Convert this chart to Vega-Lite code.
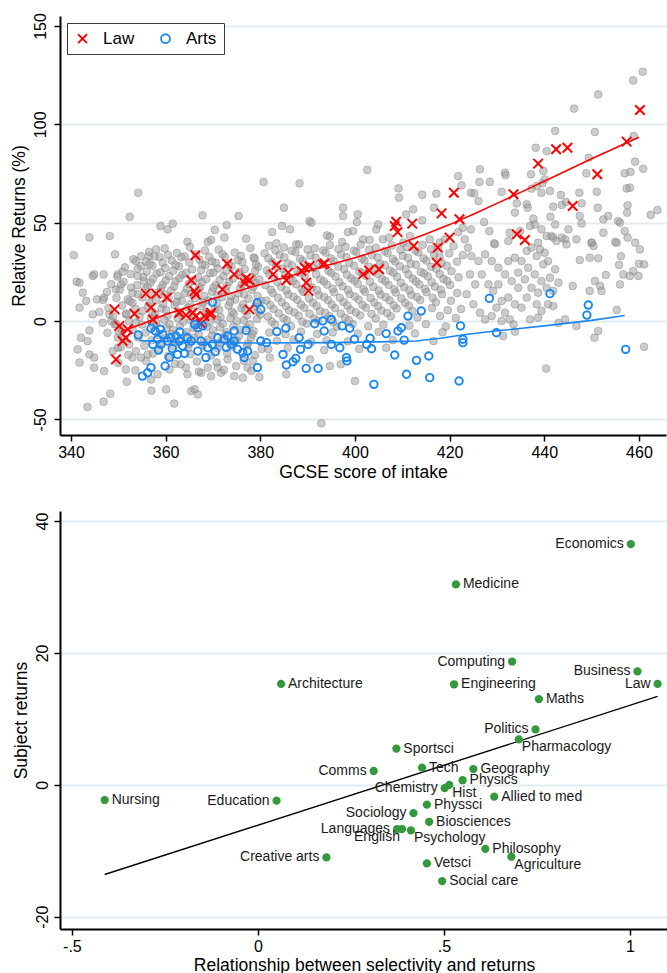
{
"$schema":"https://vega.github.io/schema/vega-lite/v6.json",
"background":"white",
"padding":{"top":12,"left":10,"right":0,"bottom":0},
"spacing":30,
"bounds":"full",
"config":{
 "font":"Liberation Sans",
 "view":{"stroke":null},
 "axis":{"domainColor":"#000","domainWidth":2,"tickColor":"#000","tickWidth":1.5,"tickSize":6,"labelFont":"Liberation Sans","titleFont":"Liberation Sans","labelFontSize":16,"titleFontSize":17.5,"titleFontWeight":"normal","labelColor":"#000","titleColor":"#000","gridColor":"#e3ebf0","gridWidth":1.8,"labelOverlap":false,"labelFlush":false},
 "legend":{"labelFont":"Liberation Sans"}
},
"datasets":{
"grey":[
{"x":460.8,"y":126.7},{"x":458.8,"y":122.3},{"x":451.4,"y":115.2},{"x":446.3,"y":108.0},{"x":442.3,"y":96.6},{"x":450.7,"y":96.1},{"x":458.9,"y":94.1},{"x":438.2,"y":88.1},{"x":440.5,"y":86.4},{"x":449.4,"y":83.0},{"x":459.2,"y":81.0},{"x":460.9,"y":77.4},{"x":426.4,"y":77.1},{"x":431.7,"y":75.4},{"x":431.8,"y":74.1},{"x":437.2,"y":74.6},{"x":439.8,"y":76.3},{"x":440.1,"y":72.0},{"x":439.6,"y":70.0},{"x":438.4,"y":68.6},{"x":437.3,"y":67.3},{"x":426.3,"y":70.7},{"x":428.5,"y":70.7},{"x":424.5,"y":65.2},{"x":425.2,"y":64.9},{"x":426.1,"y":61.0},{"x":431.0,"y":65.7},{"x":439.4,"y":65.2},{"x":441.2,"y":66.1},{"x":443.5,"y":64.1},{"x":447.4,"y":65.2},{"x":451.1,"y":65.7},{"x":448.9,"y":75.1},{"x":457.0,"y":75.1},{"x":458.2,"y":75.8},{"x":457.4,"y":67.4},{"x":458.1,"y":67.8},{"x":434.2,"y":59.8},{"x":433.8,"y":55.1},{"x":436.3,"y":59.3},{"x":436.5,"y":57.6},{"x":441.9,"y":58.1},{"x":443.7,"y":59.0},{"x":444.6,"y":60.5},{"x":447.9,"y":59.8},{"x":447.5,"y":53.4},{"x":451.3,"y":57.6},{"x":457.6,"y":58.8},{"x":457.5,"y":55.1},{"x":462.5,"y":53.9},{"x":463.9,"y":56.4},{"x":427.3,"y":50.3},{"x":437.7,"y":52.0},{"x":438.0,"y":49.1},{"x":441.3,"y":53.0},{"x":442.3,"y":49.1},{"x":445.1,"y":46.6},{"x":446.8,"y":41.5},{"x":447.9,"y":49.6},{"x":452.5,"y":51.7},{"x":453.5,"y":53.4},{"x":455.6,"y":50.8},{"x":456.0,"y":50.0},{"x":428.4,"y":45.7},{"x":429.4,"y":39.5},{"x":432.7,"y":44.9},{"x":434.9,"y":45.7},{"x":437.0,"y":48.3},{"x":439.4,"y":46.6},{"x":440.5,"y":43.2},{"x":441.5,"y":43.2},{"x":441.9,"y":42.4},{"x":443.7,"y":42.4},{"x":444.4,"y":41.5},{"x":450.0,"y":39.8},{"x":452.5,"y":44.9},{"x":455.0,"y":40.2},{"x":457.0,"y":45.7},{"x":457.6,"y":42.4},{"x":459.2,"y":39.8},{"x":424.5,"y":46.6},{"x":423.2,"y":41.5},{"x":438.7,"y":39.8},
{"x":380.7,"y":70.7},{"x":388.3,"y":70.0},{"x":402.6,"y":76.8},{"x":409.2,"y":67.4},{"x":409.3,"y":62.7},{"x":414.2,"y":64.2},{"x":417.2,"y":64.7},{"x":421.8,"y":73.7},{"x":422.5,"y":69.0},{"x":385.0,"y":57.6},{"x":397.5,"y":57.6},{"x":397.5,"y":53.4},{"x":400.6,"y":54.2},{"x":400.4,"y":50.3},{"x":390.4,"y":50.8},{"x":390.8,"y":50.0},{"x":384.6,"y":48.3},{"x":386.3,"y":46.6},{"x":382.5,"y":45.2},{"x":383.4,"y":39.5},{"x":387.6,"y":39.0},{"x":394.1,"y":43.5},{"x":394.7,"y":42.9},{"x":397.3,"y":40.2},{"x":398.5,"y":45.2},{"x":399.6,"y":45.7},{"x":401.7,"y":41.5},{"x":403.1,"y":41.2},{"x":404.9,"y":49.1},{"x":404.5,"y":46.6},{"x":405.9,"y":41.5},{"x":407.2,"y":42.4},{"x":410.8,"y":54.2},{"x":412.3,"y":56.8},{"x":414.2,"y":51.2},{"x":416.7,"y":57.6},{"x":415.8,"y":41.5},{"x":417.9,"y":39.8},{"x":419.0,"y":41.5},{"x":421.8,"y":45.2},{"x":422.8,"y":47.4},{"x":411.6,"y":43.2},{"x":410.2,"y":39.8},
{"x":354.2,"y":65.2},{"x":352.4,"y":53.0},{"x":343.9,"y":42.5},{"x":348.2,"y":43.2},{"x":358.9,"y":48.3},{"x":360.4,"y":46.6},{"x":361.5,"y":49.5},{"x":364.6,"y":40.3},{"x":367.8,"y":53.7},{"x":370.4,"y":46.3},{"x":372.9,"y":48.8},{"x":375.4,"y":53.4},{"x":372.4,"y":42.4},{"x":377.0,"y":41.9},{"x":368.9,"y":40.2},{"x":369.6,"y":41.2},
{"x":340.6,"y":33.5},{"x":349.3,"y":33.9},{"x":341.2,"y":20.0},{"x":341.8,"y":19.5},{"x":344.9,"y":23.7},{"x":344.6,"y":22.9},{"x":346.9,"y":23.7},{"x":342.5,"y":14.4},{"x":343.2,"y":10.2},{"x":341.8,"y":6.8},{"x":345.5,"y":11.0},{"x":347.0,"y":11.9},{"x":344.6,"y":3.4},{"x":346.0,"y":4.7},{"x":346.7,"y":-0.9},{"x":343.9,"y":-4.8},{"x":342.1,"y":-8.5},{"x":343.5,"y":-10.2},{"x":341.4,"y":-14.4},{"x":343.9,"y":-17.0},{"x":344.9,"y":-18.6},{"x":341.8,"y":-21.1},{"x":344.9,"y":-23.7},{"x":347.0,"y":-25.4},{"x":348.3,"y":-37.0},{"x":343.5,"y":-43.7},{"x":346.9,"y":-41.0},{"x":351.8,"y":-30.9},{"x":348.8,"y":-15.3},{"x":349.9,"y":-13.6},{"x":349.9,"y":-8.5},{"x":347.7,"y":-6.0},{"x":348.5,"y":0.0},{"x":348.1,"y":3.4},{"x":349.5,"y":16.1},{"x":350.6,"y":18.6},{"x":349.9,"y":23.7},{"x":350.9,"y":25.1},{"x":353.7,"y":30.5},{"x":354.8,"y":33.0},{"x":354.8,"y":28.0},{"x":356.5,"y":33.0},{"x":358.0,"y":36.4},{"x":354.1,"y":22.9},{"x":355.4,"y":20.3},{"x":352.7,"y":17.0},{"x":354.1,"y":13.6},{"x":352.0,"y":11.0},{"x":353.0,"y":9.3},{"x":351.6,"y":3.4},{"x":353.7,"y":-0.9},{"x":355.1,"y":5.1},{"x":349.2,"y":-1.7},{"x":350.6,"y":-4.2},{"x":352.3,"y":-11.9},{"x":353.7,"y":-15.3},{"x":353.0,"y":-18.6},{"x":354.8,"y":-18.6},{"x":356.2,"y":-17.0},{"x":351.6,"y":-24.6},{"x":356.9,"y":-29.7},{"x":358.3,"y":-27.1},{"x":360.1,"y":-34.8},{"x":361.8,"y":-42.0},{"x":357.0,"y":-35.4},{"x":365.4,"y":-35.6},{"x":366.8,"y":-37.3},{"x":366.1,"y":-34.7},{"x":364.6,"y":-27.1},{"x":364.3,"y":-23.7},{"x":363.2,"y":-22.0},{"x":367.5,"y":-26.3},{"x":368.9,"y":-23.7},{"x":369.6,"y":-28.0},{"x":371.0,"y":-23.7},{"x":371.7,"y":-26.3},{"x":374.5,"y":-28.0},{"x":376.3,"y":-28.8},{"x":373.1,"y":-19.5},{"x":374.9,"y":-22.9},{"x":377.3,"y":-23.7},{"x":378.4,"y":-20.3},
{"x":356.5,"y":35.2},{"x":359.8,"y":36.9},{"x":362.4,"y":34.6},{"x":365.1,"y":37.8},{"x":368.3,"y":35.9},{"x":371.2,"y":36.3},{"x":374.6,"y":34.8},{"x":377.9,"y":37.1},
{"x":353.2,"y":31.4},{"x":355.9,"y":30.2},{"x":358.7,"y":32.5},{"x":361.3,"y":30.8},{"x":364.0,"y":32.9},{"x":367.1,"y":31.2},{"x":369.8,"y":30.4},{"x":372.5,"y":32.7},{"x":375.3,"y":30.9},{"x":378.8,"y":31.8},
{"x":351.4,"y":27.3},{"x":354.1,"y":26.5},{"x":357.2,"y":28.1},{"x":359.9,"y":26.9},{"x":362.8,"y":27.8},{"x":365.6,"y":26.2},{"x":368.4,"y":28.4},{"x":371.0,"y":26.7},{"x":373.9,"y":27.9},{"x":376.7,"y":26.4},{"x":379.5,"y":27.6},
{"x":349.8,"y":22.6},{"x":352.6,"y":23.8},{"x":355.3,"y":22.4},{"x":358.1,"y":24.1},{"x":360.7,"y":22.8},{"x":363.5,"y":23.5},{"x":366.9,"y":22.1},{"x":369.4,"y":24.3},{"x":372.2,"y":22.9},{"x":375.8,"y":23.6},{"x":378.3,"y":22.2},
{"x":348.5,"y":18.7},{"x":351.1,"y":19.9},{"x":354.0,"y":18.2},{"x":356.8,"y":19.6},{"x":359.4,"y":18.4},{"x":362.1,"y":20.1},{"x":364.9,"y":18.9},{"x":367.7,"y":19.7},{"x":370.6,"y":18.3},{"x":373.4,"y":19.9},{"x":376.1,"y":18.6},{"x":379.0,"y":19.4},
{"x":347.6,"y":14.8},{"x":350.3,"y":15.9},{"x":353.0,"y":14.3},{"x":355.7,"y":16.2},{"x":358.5,"y":14.7},{"x":361.2,"y":15.6},{"x":364.1,"y":14.2},{"x":367.0,"y":16.0},{"x":369.8,"y":14.9},{"x":372.7,"y":15.7},{"x":375.4,"y":14.1},{"x":378.2,"y":15.8},
{"x":346.8,"y":10.7},{"x":349.6,"y":11.8},{"x":352.4,"y":10.1},{"x":355.1,"y":12.0},{"x":357.9,"y":10.6},{"x":360.6,"y":11.9},{"x":363.4,"y":10.3},{"x":366.2,"y":11.6},{"x":369.0,"y":10.5},{"x":371.9,"y":12.1},{"x":374.7,"y":10.9},{"x":377.5,"y":11.4},{"x":380.2,"y":10.2},
{"x":347.9,"y":6.6},{"x":350.8,"y":7.9},{"x":353.6,"y":6.2},{"x":356.3,"y":7.7},{"x":359.1,"y":6.4},{"x":361.9,"y":8.0},{"x":364.7,"y":6.8},{"x":367.6,"y":7.5},{"x":370.4,"y":6.1},{"x":373.3,"y":7.8},{"x":376.0,"y":6.5},{"x":378.9,"y":7.3},
{"x":348.9,"y":2.4},{"x":351.7,"y":3.8},{"x":354.5,"y":2.1},{"x":357.8,"y":3.6},{"x":360.4,"y":2.6},{"x":363.1,"y":3.9},{"x":366.0,"y":2.2},{"x":368.8,"y":3.5},{"x":371.6,"y":2.0},{"x":374.4,"y":3.7},{"x":377.2,"y":2.8},{"x":380.0,"y":3.2},
{"x":349.5,"y":-1.3},{"x":352.3,"y":-0.2},{"x":355.0,"y":-1.8},{"x":358.0,"y":-0.5},{"x":360.8,"y":-1.6},{"x":363.7,"y":-0.3},{"x":366.5,"y":-1.9},{"x":369.3,"y":-0.6},{"x":372.1,"y":-1.4},{"x":375.0,"y":-0.1},{"x":377.8,"y":-1.7},
{"x":350.1,"y":-5.4},{"x":353.0,"y":-4.3},{"x":355.8,"y":-5.9},{"x":361.5,"y":-4.6},{"x":364.4,"y":-5.7},{"x":370.0,"y":-4.8},{"x":372.9,"y":-5.6},{"x":375.7,"y":-4.4},{"x":378.6,"y":-5.2},
{"x":351.2,"y":-9.2},{"x":354.2,"y":-8.3},{"x":357.0,"y":-9.8},{"x":360.0,"y":-8.7},{"x":363.0,"y":-9.6},{"x":366.0,"y":-8.4},{"x":369.0,"y":-9.5},{"x":372.0,"y":-8.8},{"x":375.0,"y":-9.9},{"x":378.0,"y":-8.6},
{"x":350.5,"y":-13.4},{"x":355.5,"y":-12.6},{"x":358.6,"y":-14.0},{"x":361.7,"y":-12.9},{"x":364.8,"y":-13.7},{"x":367.9,"y":-12.5},{"x":371.0,"y":-13.9},{"x":374.1,"y":-13.0},{"x":377.2,"y":-12.7},{"x":380.3,"y":-14.2},
{"x":352.1,"y":-17.2},{"x":357.3,"y":-16.5},{"x":360.5,"y":-17.8},{"x":365.2,"y":-16.9},{"x":369.6,"y":-17.5},{"x":373.0,"y":-16.4},{"x":378.9,"y":-17.3},
{"x":350.0,"y":-21.3},{"x":355.9,"y":-20.4},{"x":362.0,"y":-21.8},{"x":366.6,"y":-20.6},{"x":370.8,"y":-21.1},{"x":376.5,"y":-20.2},
{"x":353.6,"y":-25.1},{"x":360.8,"y":-24.6},{"x":367.0,"y":-25.7},{"x":372.3,"y":-24.9},{"x":378.1,"y":-25.3},
{"x":357.6,"y":32.8},{"x":360.5,"y":33.6},{"x":363.3,"y":32.4},{"x":366.4,"y":33.9},{"x":369.2,"y":32.6},{"x":372.0,"y":34.0},{"x":375.9,"y":33.1},{"x":378.6,"y":32.3},
{"x":356.6,"y":28.9},{"x":359.4,"y":29.7},{"x":362.1,"y":28.5},{"x":365.0,"y":29.8},{"x":367.8,"y":28.7},{"x":370.6,"y":29.5},{"x":373.3,"y":28.9},{"x":376.2,"y":29.9},{"x":379.1,"y":28.7},
{"x":356.0,"y":25.1},{"x":358.9,"y":24.8},{"x":361.6,"y":25.6},{"x":364.3,"y":24.5},{"x":367.5,"y":25.9},{"x":370.1,"y":24.6},{"x":372.8,"y":25.4},{"x":375.5,"y":24.9},{"x":378.9,"y":25.3},
{"x":357.3,"y":21.4},{"x":360.0,"y":20.6},{"x":362.9,"y":21.7},{"x":365.8,"y":20.5},{"x":368.6,"y":21.3},{"x":371.4,"y":20.8},{"x":374.2,"y":21.6},{"x":377.0,"y":20.4},{"x":379.8,"y":21.1},
{"x":356.2,"y":17.3},{"x":359.0,"y":16.7},{"x":361.8,"y":17.6},{"x":364.5,"y":16.5},{"x":367.3,"y":17.2},{"x":370.1,"y":16.9},{"x":372.9,"y":17.8},{"x":375.7,"y":16.6},{"x":378.6,"y":17.4},
{"x":357.0,"y":12.9},{"x":359.8,"y":13.5},{"x":362.6,"y":12.6},{"x":365.4,"y":13.8},{"x":368.2,"y":12.7},{"x":371.0,"y":13.3},{"x":373.8,"y":12.5},{"x":376.6,"y":13.6},{"x":379.4,"y":12.8},
{"x":356.6,"y":9.2},{"x":359.5,"y":8.7},{"x":362.3,"y":9.6},{"x":365.1,"y":8.5},{"x":367.9,"y":9.3},{"x":370.8,"y":8.9},{"x":373.6,"y":9.7},{"x":376.4,"y":8.6},{"x":379.2,"y":9.1},
{"x":357.2,"y":4.8},{"x":360.1,"y":5.5},{"x":362.8,"y":4.6},{"x":365.6,"y":5.3},{"x":368.5,"y":4.5},{"x":371.3,"y":5.6},{"x":374.0,"y":4.7},{"x":376.8,"y":5.2},{"x":379.6,"y":4.9},
{"x":356.9,"y":1.2},{"x":359.7,"y":0.6},{"x":362.5,"y":1.5},{"x":365.3,"y":0.4},{"x":368.1,"y":1.1},{"x":370.9,"y":0.7},{"x":373.7,"y":1.4},{"x":376.5,"y":0.3},{"x":379.3,"y":1.0},
{"x":357.4,"y":-2.8},{"x":360.2,"y":-3.4},{"x":363.0,"y":-2.6},{"x":365.9,"y":-3.5},{"x":368.7,"y":-2.9},{"x":371.5,"y":-3.2},{"x":374.3,"y":-2.7},{"x":377.1,"y":-3.6},
{"x":358.5,"y":-7.2},{"x":361.3,"y":-6.6},{"x":364.2,"y":-7.4},{"x":367.0,"y":-6.8},{"x":369.8,"y":-7.3},{"x":372.6,"y":-6.9},{"x":375.5,"y":-7.5},{"x":378.3,"y":-6.7},
{"x":359.2,"y":-11.2},{"x":362.1,"y":-10.6},{"x":365.0,"y":-11.5},{"x":368.0,"y":-10.8},{"x":371.1,"y":-11.3},{"x":374.2,"y":-10.7},{"x":377.4,"y":-11.4},
{"x":381.8,"y":38.3},{"x":385.0,"y":37.4},{"x":388.2,"y":38.9},{"x":391.5,"y":37.0},{"x":394.7,"y":38.6},{"x":398.0,"y":37.7},{"x":401.2,"y":38.8},{"x":404.4,"y":37.2},{"x":407.8,"y":38.4},{"x":411.0,"y":37.5},{"x":414.3,"y":38.7},{"x":417.6,"y":37.3},{"x":420.8,"y":38.1},
{"x":380.9,"y":34.4},{"x":384.1,"y":33.6},{"x":387.4,"y":35.0},{"x":390.6,"y":33.3},{"x":393.8,"y":34.8},{"x":397.1,"y":33.9},{"x":400.3,"y":35.1},{"x":403.6,"y":33.5},{"x":406.9,"y":34.6},{"x":410.1,"y":33.2},{"x":413.4,"y":34.9},{"x":416.7,"y":33.7},{"x":419.9,"y":34.4},{"x":422.8,"y":33.5},
{"x":382.5,"y":30.1},{"x":385.8,"y":29.3},{"x":389.0,"y":30.6},{"x":392.3,"y":29.0},{"x":395.5,"y":30.4},{"x":398.8,"y":29.5},{"x":402.0,"y":30.8},{"x":405.3,"y":29.2},{"x":408.5,"y":30.3},{"x":411.8,"y":29.1},{"x":415.1,"y":30.7},{"x":418.3,"y":29.4},{"x":421.6,"y":30.2},
{"x":381.4,"y":25.8},{"x":384.7,"y":26.6},{"x":387.9,"y":25.2},{"x":391.2,"y":26.9},{"x":394.4,"y":25.5},{"x":397.7,"y":26.4},{"x":400.9,"y":25.1},{"x":404.2,"y":26.8},{"x":407.4,"y":25.6},{"x":410.7,"y":26.3},{"x":413.9,"y":25.0},{"x":417.2,"y":26.5},{"x":420.4,"y":25.3},
{"x":382.9,"y":22.4},{"x":386.2,"y":21.5},{"x":389.4,"y":22.8},{"x":392.7,"y":21.2},{"x":395.9,"y":22.6},{"x":399.2,"y":21.7},{"x":402.4,"y":22.9},{"x":405.7,"y":21.3},{"x":408.9,"y":22.5},{"x":412.2,"y":21.6},{"x":415.4,"y":22.7},{"x":418.7,"y":21.4},{"x":421.9,"y":22.2},
{"x":381.1,"y":18.2},{"x":384.4,"y":17.4},{"x":387.6,"y":18.7},{"x":390.9,"y":17.1},{"x":394.1,"y":18.5},{"x":397.4,"y":17.6},{"x":400.6,"y":18.9},{"x":403.9,"y":17.3},{"x":407.1,"y":18.4},{"x":410.4,"y":17.2},{"x":413.6,"y":18.6},{"x":416.9,"y":17.5},{"x":420.1,"y":18.3},
{"x":382.6,"y":14.3},{"x":385.9,"y":13.5},{"x":389.1,"y":14.8},{"x":392.4,"y":13.2},{"x":395.6,"y":14.6},{"x":398.9,"y":13.7},{"x":402.1,"y":14.9},{"x":405.4,"y":13.4},{"x":408.6,"y":14.5},{"x":411.9,"y":13.3},{"x":415.1,"y":14.7},{"x":418.4,"y":13.6},{"x":421.6,"y":14.2},
{"x":381.3,"y":10.4},{"x":384.6,"y":9.5},{"x":387.8,"y":10.8},{"x":391.1,"y":9.3},{"x":394.3,"y":10.6},{"x":397.6,"y":9.7},{"x":400.8,"y":10.9},{"x":404.1,"y":9.4},{"x":407.3,"y":10.5},{"x":410.6,"y":9.2},{"x":413.8,"y":10.7},{"x":417.1,"y":9.6},{"x":420.3,"y":10.3},
{"x":382.8,"y":6.2},{"x":386.1,"y":5.4},{"x":389.3,"y":6.7},{"x":392.6,"y":5.1},{"x":395.8,"y":6.5},{"x":399.1,"y":5.6},{"x":402.3,"y":6.8},{"x":405.6,"y":5.3},{"x":408.8,"y":6.4},{"x":412.1,"y":5.2},{"x":416.3,"y":6.6},{"x":419.6,"y":5.5},{"x":422.4,"y":6.1},
{"x":381.6,"y":2.3},{"x":384.9,"y":1.4},{"x":388.1,"y":2.7},{"x":391.4,"y":1.2},{"x":394.6,"y":2.5},{"x":397.9,"y":1.6},{"x":401.1,"y":2.8},{"x":404.4,"y":1.3},{"x":407.6,"y":2.4},{"x":413.2,"y":1.8},{"x":418.0,"y":2.6},{"x":421.3,"y":1.5},
{"x":383.1,"y":-1.8},{"x":386.5,"y":-2.6},{"x":389.8,"y":-1.3},{"x":396.2,"y":-2.9},{"x":399.5,"y":-1.5},{"x":402.8,"y":-2.7},{"x":406.0,"y":-1.9},{"x":411.5,"y":-2.4},{"x":415.0,"y":-1.6},{"x":419.2,"y":-2.8},
{"x":381.9,"y":-5.9},{"x":385.3,"y":-6.7},{"x":388.6,"y":-5.4},{"x":392.0,"y":-6.6},{"x":395.3,"y":-5.8},{"x":400.6,"y":-6.4},{"x":405.0,"y":-5.5},{"x":412.7,"y":-6.3},{"x":418.5,"y":-5.7},
{"x":383.5,"y":-10.1},{"x":387.0,"y":-9.4},{"x":390.8,"y":-10.6},{"x":394.0,"y":-9.8},{"x":398.5,"y":-10.4},{"x":408.0,"y":-9.7},{"x":416.6,"y":-10.2},
{"x":381.7,"y":-14.3},{"x":385.8,"y":-13.6},{"x":393.5,"y":-14.8},{"x":400.9,"y":-14.2},{"x":406.6,"y":-13.6},
{"x":382.0,"y":-18.6},{"x":390.5,"y":-19.5},{"x":394.7,"y":-22.9},{"x":385.5,"y":-27.1},{"x":400.0,"y":-30.5},{"x":392.9,"y":-52.0},{"x":397.0,"y":-22.0},{"x":379.8,"y":-28.5},
{"x":383.2,"y":36.0},{"x":386.6,"y":35.7},{"x":390.0,"y":36.4},{"x":393.3,"y":35.9},{"x":396.5,"y":36.6},{"x":399.8,"y":35.8},{"x":403.0,"y":36.3},{"x":406.3,"y":35.6},{"x":409.6,"y":36.2},{"x":412.8,"y":35.9},{"x":416.1,"y":36.5},
{"x":381.7,"y":31.9},{"x":385.1,"y":32.4},{"x":388.4,"y":31.6},{"x":391.7,"y":32.2},{"x":394.9,"y":31.8},{"x":398.2,"y":32.5},{"x":401.5,"y":31.7},{"x":404.8,"y":32.3},{"x":408.0,"y":31.5},{"x":411.2,"y":32.1},{"x":414.5,"y":31.8},{"x":417.9,"y":32.6},
{"x":383.4,"y":27.9},{"x":386.7,"y":28.3},{"x":390.0,"y":27.6},{"x":393.2,"y":28.5},{"x":396.5,"y":27.7},{"x":399.8,"y":28.2},{"x":403.0,"y":27.5},{"x":406.3,"y":28.4},{"x":409.5,"y":27.8},{"x":412.9,"y":28.6},{"x":416.1,"y":27.6},{"x":419.4,"y":28.1},
{"x":381.9,"y":24.1},{"x":385.3,"y":23.7},{"x":388.5,"y":24.4},{"x":391.8,"y":23.8},{"x":395.0,"y":24.5},{"x":398.3,"y":23.6},{"x":401.6,"y":24.3},{"x":404.8,"y":23.9},{"x":408.1,"y":24.6},{"x":411.3,"y":23.7},{"x":414.6,"y":24.2},{"x":417.9,"y":23.9},
{"x":383.6,"y":19.8},{"x":386.9,"y":20.4},{"x":390.1,"y":19.6},{"x":393.4,"y":20.2},{"x":396.7,"y":19.7},{"x":399.9,"y":20.5},{"x":403.2,"y":19.9},{"x":406.4,"y":20.3},{"x":409.7,"y":19.5},{"x":412.9,"y":20.1},{"x":416.2,"y":19.8},{"x":419.5,"y":20.4},
{"x":382.2,"y":16.0},{"x":385.5,"y":15.6},{"x":388.7,"y":16.3},{"x":392.0,"y":15.7},{"x":395.3,"y":16.4},{"x":398.5,"y":15.8},{"x":401.8,"y":16.2},{"x":405.0,"y":15.5},{"x":408.3,"y":16.1},{"x":411.5,"y":15.7},{"x":414.8,"y":16.3},{"x":418.1,"y":15.9},
{"x":383.7,"y":11.9},{"x":387.0,"y":12.3},{"x":390.3,"y":11.6},{"x":393.5,"y":12.2},{"x":396.8,"y":11.8},{"x":400.0,"y":12.4},{"x":403.3,"y":11.7},{"x":406.5,"y":12.1},{"x":409.8,"y":11.5},{"x":413.1,"y":12.2},{"x":416.4,"y":11.8},
{"x":382.1,"y":8.1},{"x":385.4,"y":7.6},{"x":388.6,"y":8.3},{"x":391.9,"y":7.7},{"x":395.1,"y":8.4},{"x":398.4,"y":7.9},{"x":401.6,"y":8.2},{"x":404.9,"y":7.5},{"x":408.2,"y":8.0},{"x":411.4,"y":7.7},
{"x":383.9,"y":3.9},{"x":387.2,"y":4.3},{"x":390.4,"y":3.7},{"x":393.7,"y":4.2},{"x":397.0,"y":3.8},{"x":400.2,"y":4.4},{"x":403.5,"y":3.6},{"x":406.8,"y":4.1},
{"x":382.4,"y":-0.2},{"x":385.6,"y":0.3},{"x":388.9,"y":-0.4},{"x":392.2,"y":0.1},{"x":395.4,"y":-0.5},{"x":398.7,"y":0.4},
{"x":429.6,"y":39.0},{"x":432.4,"y":40.7},{"x":436.3,"y":35.6},{"x":437.3,"y":37.3},{"x":438.4,"y":33.0},{"x":440.1,"y":34.7},{"x":440.8,"y":30.5},{"x":442.6,"y":40.7},{"x":444.7,"y":39.0},{"x":450.0,"y":39.8},{"x":450.4,"y":38.1},{"x":455.3,"y":39.8},{"x":447.5,"y":31.0},{"x":449.6,"y":32.2},{"x":451.4,"y":31.9},{"x":456.2,"y":33.0},{"x":455.8,"y":28.5},{"x":456.7,"y":23.7},{"x":458.1,"y":22.9},{"x":459.9,"y":22.9},{"x":460.0,"y":29.1},{"x":458.8,"y":25.4},{"x":453.0,"y":23.4},{"x":450.7,"y":20.3},{"x":451.8,"y":17.8},{"x":449.6,"y":15.3},{"x":452.1,"y":15.3},{"x":456.0,"y":18.6},{"x":446.0,"y":17.8},{"x":443.0,"y":19.5},{"x":455.3,"y":5.6},{"x":446.8,"y":-2.5},{"x":451.4,"y":-5.1},{"x":450.6,"y":-8.5},{"x":461.1,"y":-13.1},{"x":440.4,"y":-24.2},{"x":433.5,"y":-1.7},{"x":433.8,"y":-5.4},{"x":431.3,"y":-7.6},{"x":437.0,"y":0.8},{"x":438.7,"y":1.7},{"x":443.0,"y":-0.9},{"x":444.4,"y":0.8},{"x":460.2,"y":36.4},{"x":461.1,"y":28.8},
{"x":423.9,"y":37.3},{"x":424.6,"y":33.0},{"x":426.1,"y":30.5},{"x":424.3,"y":23.7},{"x":425.4,"y":18.6},{"x":423.6,"y":13.6},{"x":425.0,"y":8.5},{"x":426.4,"y":4.2},{"x":427.5,"y":0.8},{"x":428.9,"y":2.5},{"x":429.9,"y":6.8},{"x":431.0,"y":10.2},{"x":432.4,"y":11.9},{"x":433.8,"y":8.5},{"x":435.2,"y":6.8},{"x":436.3,"y":11.9},{"x":434.5,"y":16.9},{"x":433.1,"y":20.3},{"x":431.7,"y":23.7},{"x":430.3,"y":27.1},{"x":428.9,"y":30.5},{"x":427.5,"y":33.9},{"x":426.8,"y":23.7},{"x":428.2,"y":18.6},{"x":429.2,"y":15.3},{"x":430.3,"y":18.6},{"x":432.4,"y":30.5},{"x":433.8,"y":32.2},{"x":435.2,"y":30.5},{"x":436.6,"y":27.1},{"x":438.0,"y":23.7},{"x":439.4,"y":20.3},{"x":440.5,"y":16.9},{"x":438.7,"y":14.4},{"x":437.3,"y":16.9},{"x":435.9,"y":21.2},{"x":434.5,"y":24.6},{"x":439.8,"y":28.8},{"x":439.1,"y":36.4},{"x":441.2,"y":22.0},{"x":442.3,"y":26.3},{"x":441.9,"y":15.3},{"x":440.8,"y":8.5},{"x":441.9,"y":7.6},{"x":438.4,"y":8.5},{"x":439.4,"y":5.1},{"x":431.7,"y":4.2},{"x":432.7,"y":0.8},{"x":431.0,"y":0.0}
],
"cat":[
{"s":"Law","x":366.3,"y":33.4},{"s":"Law","x":373.0,"y":29.1},{"s":"Law","x":374.5,"y":23.7},{"s":"Law","x":377.0,"y":21.7},{"s":"Law","x":377.7,"y":20.7},{"s":"Law","x":365.4,"y":20.7},{"s":"Law","x":366.1,"y":15.2},{"s":"Law","x":366.4,"y":13.5},{"s":"Law","x":372.0,"y":16.1},{"s":"Law","x":355.8,"y":13.9},{"s":"Law","x":358.0,"y":13.9},{"s":"Law","x":360.3,"y":11.9},{"s":"Law","x":349.2,"y":5.9},{"s":"Law","x":353.4,"y":3.7},{"s":"Law","x":356.9,"y":6.8},{"s":"Law","x":357.3,"y":0.8},{"s":"Law","x":362.9,"y":4.2},{"s":"Law","x":364.3,"y":3.0},{"s":"Law","x":365.7,"y":4.2},{"s":"Law","x":366.4,"y":2.5},{"s":"Law","x":368.2,"y":2.5},{"s":"Law","x":369.6,"y":4.2},{"s":"Law","x":377.7,"y":5.9},{"s":"Law","x":350.2,"y":-2.5},{"s":"Law","x":352.0,"y":-4.2},{"s":"Law","x":350.9,"y":-10.2},{"s":"Law","x":351.6,"y":-8.5},{"s":"Law","x":349.5,"y":-19.5},{"s":"Law","x":367.5,"y":-1.4},{"s":"Law","x":376.7,"y":19.4},{"s":"Law","x":369.4,"y":3.1},
{"s":"Law","x":383.4,"y":28.5},{"s":"Law","x":382.7,"y":23.7},{"s":"Law","x":385.9,"y":24.6},{"s":"Law","x":385.5,"y":20.7},{"s":"Law","x":388.7,"y":25.4},{"s":"Law","x":389.4,"y":27.1},{"s":"Law","x":390.4,"y":27.9},{"s":"Law","x":389.7,"y":19.5},{"s":"Law","x":390.2,"y":15.3},{"s":"Law","x":393.2,"y":28.8},{"s":"Law","x":393.6,"y":29.3},{"s":"Law","x":401.7,"y":23.7},{"s":"Law","x":403.0,"y":25.7},{"s":"Law","x":405.1,"y":26.3},{"s":"Law","x":412.4,"y":38.1},{"s":"Law","x":417.5,"y":37.3},{"s":"Law","x":417.3,"y":29.6},
{"s":"Law","x":420.9,"y":65.2},{"s":"Law","x":418.3,"y":54.7},{"s":"Law","x":422.1,"y":51.7},{"s":"Law","x":408.7,"y":50.5},{"s":"Law","x":408.4,"y":48.3},{"s":"Law","x":409.0,"y":45.2},{"s":"Law","x":412.1,"y":49.5},{"s":"Law","x":420.0,"y":42.4},
{"s":"Law","x":460.2,"y":107.3},{"s":"Law","x":457.4,"y":91.2},{"s":"Law","x":442.5,"y":87.3},{"s":"Law","x":444.9,"y":88.1},{"s":"Law","x":438.7,"y":80.0},{"s":"Law","x":451.2,"y":74.6},{"s":"Law","x":433.5,"y":64.4},{"s":"Law","x":446.0,"y":58.5},{"s":"Law","x":434.2,"y":44.1},{"s":"Law","x":435.9,"y":41.2},
{"s":"Arts","x":369.9,"y":9.6},{"s":"Arts","x":379.4,"y":9.3},{"s":"Arts","x":380.1,"y":5.9},{"s":"Arts","x":354.2,"y":-7.1},{"s":"Arts","x":356.9,"y":-3.7},{"s":"Arts","x":357.8,"y":-5.1},{"s":"Arts","x":358.9,"y":-4.2},{"s":"Arts","x":359.4,"y":-6.8},{"s":"Arts","x":358.3,"y":-9.3},{"s":"Arts","x":357.3,"y":-11.9},{"s":"Arts","x":359.0,"y":-11.9},{"s":"Arts","x":360.4,"y":-10.2},{"s":"Arts","x":361.1,"y":-8.5},{"s":"Arts","x":362.2,"y":-7.6},{"s":"Arts","x":362.9,"y":-10.2},{"s":"Arts","x":363.6,"y":-12.7},{"s":"Arts","x":362.5,"y":-17.0},{"s":"Arts","x":364.6,"y":-8.5},{"s":"Arts","x":365.4,"y":-10.2},{"s":"Arts","x":366.1,"y":-1.7},{"s":"Arts","x":366.8,"y":-3.4},{"s":"Arts","x":367.8,"y":-2.5},{"s":"Arts","x":367.5,"y":-10.2},{"s":"Arts","x":366.8,"y":-15.3},{"s":"Arts","x":368.5,"y":-18.6},{"s":"Arts","x":368.9,"y":-13.6},{"s":"Arts","x":369.9,"y":-11.9},{"s":"Arts","x":371.0,"y":-8.5},{"s":"Arts","x":372.4,"y":-9.3},{"s":"Arts","x":373.1,"y":-7.6},{"s":"Arts","x":373.8,"y":-11.9},{"s":"Arts","x":374.5,"y":-10.2},{"s":"Arts","x":375.2,"y":-14.4},{"s":"Arts","x":376.3,"y":-16.1},{"s":"Arts","x":376.6,"y":-18.6},{"s":"Arts","x":377.3,"y":-15.3},{"s":"Arts","x":374.5,"y":-5.1},{"s":"Arts","x":377.0,"y":-4.8},{"s":"Arts","x":380.1,"y":-10.2},{"s":"Arts","x":379.4,"y":-23.7},{"s":"Arts","x":356.9,"y":-23.7},{"s":"Arts","x":356.2,"y":-26.3},{"s":"Arts","x":355.1,"y":-28.0},{"s":"Arts","x":359.9,"y":-22.9},{"s":"Arts","x":358.5,"y":-14.8},{"s":"Arts","x":361.4,"y":-14.0},{"s":"Arts","x":364.0,"y":-16.5},{"s":"Arts","x":360.8,"y":-18.5},{"s":"Arts","x":363.0,"y":-5.6},{"s":"Arts","x":370.5,"y":-15.6},{"s":"Arts","x":372.8,"y":-13.4},
{"s":"Arts","x":383.5,"y":-5.4},{"s":"Arts","x":385.4,"y":-3.7},{"s":"Arts","x":381.3,"y":-11.0},{"s":"Arts","x":384.8,"y":-17.0},{"s":"Arts","x":385.5,"y":-22.4},{"s":"Arts","x":386.9,"y":-20.7},{"s":"Arts","x":387.5,"y":-19.0},{"s":"Arts","x":388.2,"y":-8.5},{"s":"Arts","x":388.5,"y":-14.4},{"s":"Arts","x":390.1,"y":-11.9},{"s":"Arts","x":389.7,"y":-24.1},{"s":"Arts","x":392.2,"y":-24.1},{"s":"Arts","x":391.5,"y":-1.4},{"s":"Arts","x":393.2,"y":0.0},{"s":"Arts","x":395.0,"y":0.8},{"s":"Arts","x":393.5,"y":-5.1},{"s":"Arts","x":395.0,"y":-11.9},{"s":"Arts","x":396.8,"y":-13.6},{"s":"Arts","x":397.3,"y":-2.5},{"s":"Arts","x":398.9,"y":-3.7},{"s":"Arts","x":399.9,"y":-9.3},{"s":"Arts","x":398.2,"y":-18.6},{"s":"Arts","x":398.3,"y":-20.3},{"s":"Arts","x":402.5,"y":-11.9},{"s":"Arts","x":403.5,"y":-14.1},{"s":"Arts","x":403.2,"y":-8.8},{"s":"Arts","x":404.0,"y":-32.2},{"s":"Arts","x":406.6,"y":-6.4},{"s":"Arts","x":408.4,"y":-17.3},{"s":"Arts","x":409.1,"y":-5.1},{"s":"Arts","x":409.8,"y":-3.4},{"s":"Arts","x":410.4,"y":-9.7},{"s":"Arts","x":411.2,"y":2.5},{"s":"Arts","x":414.0,"y":5.1},{"s":"Arts","x":413.0,"y":-20.0},{"s":"Arts","x":410.9,"y":-27.1},{"s":"Arts","x":415.6,"y":-17.8},{"s":"Arts","x":415.8,"y":-28.8},{"s":"Arts","x":422.0,"y":-30.5},{"s":"Arts","x":422.3,"y":-2.5},{"s":"Arts","x":422.8,"y":-9.3},{"s":"Arts","x":422.8,"y":-11.0},
{"s":"Arts","x":428.4,"y":11.5},{"s":"Arts","x":441.2,"y":13.9},{"s":"Arts","x":449.3,"y":8.1},{"s":"Arts","x":449.0,"y":3.0},{"s":"Arts","x":429.9,"y":-6.0},{"s":"Arts","x":457.2,"y":-14.4}
],
"fits":[
{"s":"Law","x":350.5,"y":-5.5},{"s":"Law","x":355,"y":-1.5},{"s":"Law","x":360,"y":3.3},{"s":"Law","x":365,"y":7.3},{"s":"Law","x":370,"y":11.3},{"s":"Law","x":375,"y":15.0},{"s":"Law","x":380,"y":18.6},{"s":"Law","x":385,"y":22.0},{"s":"Law","x":390,"y":25.4},{"s":"Law","x":395,"y":28.8},{"s":"Law","x":400,"y":32.2},{"s":"Law","x":405,"y":35.8},{"s":"Law","x":410,"y":39.8},{"s":"Law","x":415,"y":44.2},{"s":"Law","x":420,"y":49.0},{"s":"Law","x":425,"y":54.3},{"s":"Law","x":430,"y":59.8},{"s":"Law","x":435,"y":65.4},{"s":"Law","x":440,"y":71.0},{"s":"Law","x":445,"y":76.8},{"s":"Law","x":450,"y":82.5},{"s":"Law","x":455,"y":88.0},{"s":"Law","x":460,"y":93.4},
{"s":"Arts","x":354.5,"y":-10.0},{"s":"Arts","x":365,"y":-10.8},{"s":"Arts","x":380,"y":-11.2},{"s":"Arts","x":395,"y":-11.0},{"s":"Arts","x":405,"y":-10.6},{"s":"Arts","x":413,"y":-10.2},{"s":"Arts","x":418,"y":-8.8},{"s":"Arts","x":423,"y":-7.0},{"s":"Arts","x":430,"y":-5.0},{"s":"Arts","x":440,"y":-2.5},{"s":"Arts","x":450,"y":0.3},{"s":"Arts","x":457,"y":2.8}
],
"subj":[
{"n":"Economics","x":1.002,"y":36.5,"p":"l"},{"n":"Medicine","x":0.532,"y":30.4,"p":"r"},{"n":"Computing","x":0.683,"y":18.7,"p":"l"},{"n":"Business","x":1.020,"y":17.2,"p":"l"},{"n":"Law","x":1.074,"y":15.3,"p":"l"},{"n":"Architecture","x":0.062,"y":15.3,"p":"r"},{"n":"Engineering","x":0.527,"y":15.25,"p":"r"},{"n":"Maths","x":0.755,"y":13.0,"p":"r"},{"n":"Politics","x":0.746,"y":8.4,"p":"l"},{"n":"Pharmacology","x":0.701,"y":6.9,"p":"br"},{"n":"Sportsci","x":0.372,"y":5.5,"p":"r"},{"n":"Tech","x":0.441,"y":2.6,"p":"r"},{"n":"Geography","x":0.579,"y":2.4,"p":"r"},{"n":"Comms","x":0.311,"y":2.1,"p":"l"},{"n":"Physics","x":0.550,"y":0.7,"p":"r"},{"n":"Chemistry","x":0.502,"y":-0.5,"p":"l"},{"n":"Hist","x":0.514,"y":0.0,"p":"br"},{"n":"Allied to med","x":0.635,"y":-1.8,"p":"r"},{"n":"Nursing","x":-0.412,"y":-2.3,"p":"r"},{"n":"Education","x":0.050,"y":-2.4,"p":"l"},{"n":"Physsci","x":0.454,"y":-3.0,"p":"r"},{"n":"Sociology","x":0.418,"y":-4.3,"p":"l"},{"n":"Biosciences","x":0.460,"y":-5.6,"p":"r"},{"n":"Languages","x":0.374,"y":-6.7,"p":"l"},{"n":"English","x":0.387,"y":-6.7,"p":"bl"},{"n":"Psychology","x":0.411,"y":-6.9,"p":"br"},{"n":"Philosophy","x":0.611,"y":-9.7,"p":"r"},{"n":"Agriculture","x":0.681,"y":-10.9,"p":"br"},{"n":"Creative arts","x":0.184,"y":-11.0,"p":"l"},{"n":"Vetsci","x":0.454,"y":-11.9,"p":"r"},{"n":"Social care","x":0.495,"y":-14.6,"p":"r"}
],
"fit2":[{"x":-0.412,"y":-13.6},{"x":1.074,"y":13.4}]
},
"vconcat":[
{
 "width":606,"height":419,
 "encoding":{
  "x":{"field":"x","type":"quantitative","scale":{"domain":[337.68,465.72],"nice":false,"zero":false},"axis":{"values":[340,360,380,400,420,440,460],"title":"GCSE score of intake","grid":false,"labelPadding":3,"titlePadding":3}},
  "y":{"field":"y","type":"quantitative","scale":{"domain":[-57.96,155.06],"nice":false,"zero":false},"axis":{"values":[-50,0,50,100,150],"title":"Relative Returns (%)","grid":true,"labelAngle":-90,"labelAlign":"center","labelBaseline":"bottom","labelPadding":6,"titlePadding":4,"labelExpr":"'' + datum.value"}}
 },
 "layer":[
  {"data":{"name":"grey"},"mark":{"type":"circle","size":60,"fill":"#9a9a9a","fillOpacity":0.5,"stroke":"#7a7a7a","strokeOpacity":0.4,"strokeWidth":1}},
  {"data":{"name":"cat"},"transform":[{"filter":"datum.s == 'Law'"}],"mark":{"type":"point","filled":false,"size":90,"strokeWidth":2,"opacity":1},
   "encoding":{
    "color":{"field":"s","type":"nominal","scale":{"domain":["Law","Arts"],"range":["#ff0000","#1a86f2"]},"legend":{"orient":"top-left","offset":7,"direction":"horizontal","title":null,"strokeColor":"#3a3a3a","fillColor":"white","padding":7,"labelFontSize":17,"symbolStrokeWidth":1.8,"symbolSize":80,"labelOffset":12,"columnPadding":22}},
    "shape":{"field":"s","type":"nominal","scale":{"domain":["Law","Arts"],"range":["M-1,-1L1,1M-1,1L1,-1","circle"]},"legend":{"orient":"top-left","offset":7,"direction":"horizontal","title":null,"strokeColor":"#3a3a3a","fillColor":"white","padding":7,"labelFontSize":17,"symbolStrokeWidth":1.8,"symbolSize":80,"labelOffset":12,"columnPadding":22}}
   }},
  {"data":{"name":"cat"},"transform":[{"filter":"datum.s == 'Arts'"}],"mark":{"type":"point","filled":false,"size":56,"strokeWidth":1.9,"opacity":1},
   "encoding":{
    "color":{"field":"s","type":"nominal"},
    "shape":{"field":"s","type":"nominal"}
   }},
  {"data":{"name":"fits"},"transform":[{"filter":"datum.s == 'Law'"}],"mark":{"type":"line","color":"#ff0000","strokeWidth":1.6}},
  {"data":{"name":"fits"},"transform":[{"filter":"datum.s == 'Arts'"}],"mark":{"type":"line","color":"#1a86f2","strokeWidth":1.6}}
 ]
},
{
 "width":608,"height":418,
 "encoding":{
  "x":{"field":"x","type":"quantitative","scale":{"domain":[-0.532,1.102],"nice":false,"zero":false},"axis":{"values":[-0.5,0,0.5,1],"labelExpr":"replace('' + datum.value, '0.', '.')","title":"Relationship between selectivity and returns","grid":false,"labelPadding":3,"titlePadding":2}},
  "y":{"field":"y","type":"quantitative","scale":{"domain":[-21.86,41.52],"nice":false,"zero":false},"axis":{"values":[-20,0,20,40],"title":"Subject returns","grid":true,"labelAngle":-90,"labelAlign":"center","labelBaseline":"bottom","labelPadding":4,"titlePadding":4,"labelExpr":"'' + datum.value"}}
 },
 "layer":[
  {"data":{"name":"fit2"},"mark":{"type":"line","color":"#000","strokeWidth":1.4}},
  {"data":{"name":"subj"},"mark":{"type":"circle","size":68,"color":"#33993a","opacity":1}},
  {"data":{"name":"subj"},"transform":[{"filter":"datum.p == 'r'"}],"mark":{"type":"text","align":"left","baseline":"middle","dx":7,"fontSize":14,"font":"Liberation Sans","color":"#1a1a1a"},"encoding":{"text":{"field":"n"}}},
  {"data":{"name":"subj"},"transform":[{"filter":"datum.p == 'l'"}],"mark":{"type":"text","align":"right","baseline":"middle","dx":-7,"fontSize":14,"font":"Liberation Sans","color":"#1a1a1a"},"encoding":{"text":{"field":"n"}}},
  {"data":{"name":"subj"},"transform":[{"filter":"datum.p == 'br'"}],"mark":{"type":"text","align":"left","baseline":"middle","dx":3,"dy":8,"fontSize":14,"font":"Liberation Sans","color":"#1a1a1a"},"encoding":{"text":{"field":"n"}}},
  {"data":{"name":"subj"},"transform":[{"filter":"datum.p == 'bl'"}],"mark":{"type":"text","align":"right","baseline":"middle","dx":-2,"dy":8,"fontSize":14,"font":"Liberation Sans","color":"#1a1a1a"},"encoding":{"text":{"field":"n"}}}
 ]
}
]
}
